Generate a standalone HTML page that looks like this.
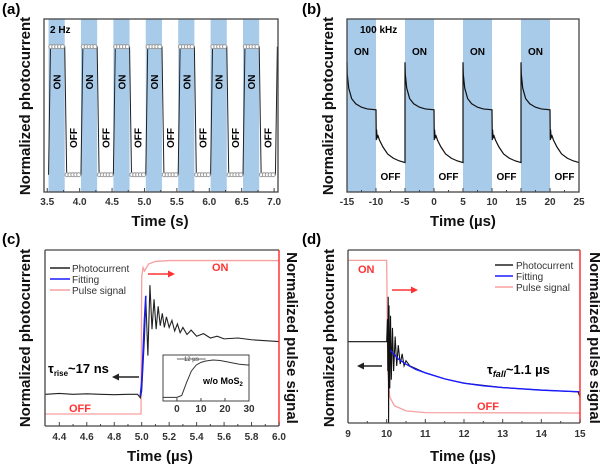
<!DOCTYPE html>
<html><head><meta charset="utf-8"><style>
body{margin:0;background:#fff}
svg{display:block;font-family:"Liberation Sans",Arial,sans-serif}
.tk{font-size:10px;font-weight:bold;fill:#333;text-anchor:middle}
.tt{font-size:15px;font-weight:bold;fill:#111}
</style></head><body>
<svg id="s" width="600" height="465" viewBox="0 0 600 465"></svg>
<script>
// ---- data ----
const aTicks=[3.5,4.0,4.5,5.0,5.5,6.0,6.5,7.0];
const aBandStarts=[3.52,4.02,4.52,5.02,5.52,6.02,6.52];
const aHigh=0.84, aLow=0.1;
const bTicks=[-15,-10,-5,0,5,10,15,20,25];
const bBandStarts=[-15,-5,5,15];
const bOnT=[0,0.05,0.3,0.8,1.5,2.5,3.5,5];
const bOnV=[0.75,0.68,0.6,0.54,0.51,0.49,0.48,0.475];
const bOffT=[0,0.05,0.1,0.2,0.3,0.6,1.2,2,3,4,5];
const bOffV=[0.475,0.3,0.36,0.31,0.33,0.3,0.26,0.22,0.195,0.18,0.17];
const cTicks=[4.4,4.6,4.8,5.0,5.2,5.4,5.6,5.8,6.0];
const cPhotoT=[4.3,4.4,4.5,4.6,4.7,4.8,4.9,4.97,4.99,5.0,5.02,5.03,5.045,5.06,5.075,5.09,5.105,5.12,5.135,5.15,5.165,5.18,5.2,5.22,5.24,5.26,5.28,5.3,5.33,5.36,5.4,5.45,5.5,5.55,5.6,5.7,5.8,5.9,6.0];
const cPhotoV=[0.18,0.185,0.18,0.183,0.18,0.178,0.18,0.18,0.16,0.2,0.5,0.72,0.4,0.8,0.55,0.72,0.55,0.68,0.57,0.64,0.56,0.62,0.56,0.6,0.54,0.58,0.53,0.56,0.52,0.545,0.51,0.525,0.5,0.51,0.495,0.5,0.49,0.485,0.48];
const cFitT=[4.99,5.0,5.01,5.02,5.03];
const cFitV=[0.17,0.25,0.42,0.6,0.74];
const cPulseT=[4.3,4.995,5.0,5.01,5.02,5.05,5.1,5.2,6.0];
const cPulseV=[0.068,0.068,0.85,0.9,0.88,0.92,0.935,0.94,0.94];
const inTicks=[0,10,20,30];
const inT=[-6,0,2,4,6,8,10,12,15,18,22,26,30];
const inV=[0.08,0.08,0.12,0.4,0.65,0.78,0.84,0.87,0.89,0.88,0.84,0.8,0.78];
const dTicks=[9,10,11,12,13,14,15];
const dPhotoT=[9,10,10.02,10.03,10.04,10.05,10.06,10.08,10.1,10.12,10.15,10.18,10.22,10.26,10.3,10.35,10.4,10.45,10.5,10.6,11,11.5,12,13,14,14.95,15];
const dPhotoV=[0.47,0.47,0.6,0.3,0.73,0.0,0.68,0.2,0.62,0.25,0.55,0.3,0.5,0.33,0.45,0.34,0.4,0.33,0.36,0.33,0.29,0.255,0.23,0.205,0.19,0.18,0.15];
const dFitT=[10.1,10.3,10.5,10.75,11,11.5,12,12.5,13,14,15];
const dFitV=[0.42,0.37,0.34,0.31,0.29,0.255,0.23,0.215,0.205,0.19,0.18];
const dPulseT=[9,10,10.03,10.08,10.2,10.5,11,15];
const dPulseV=[0.94,0.94,0.3,0.15,0.1,0.07,0.06,0.058];

const S=document.getElementById('s'),NS='http://www.w3.org/2000/svg';
function mk(tag,attrs,parent){const e=document.createElementNS(NS,tag);for(const k in attrs)e.setAttribute(k,attrs[k]);(parent||S).appendChild(e);return e;}
function txt(x,y,s,cls,extra){const e=mk('text',Object.assign({x:x,y:y},extra||{}));if(cls)e.setAttribute('class',cls);e.textContent=s;return e;}
function lin(d0,d1,r0,r1){return v=>r0+(v-d0)/(d1-d0)*(r1-r0);}
function path(xs,ys,X,Y){return xs.map((t,i)=>(i?'L':'M')+X(t).toFixed(2)+','+Y(ys[i]).toFixed(2)).join('');}
function frame(x0,y0,x1,y1,name,stroke){
 const r=mk('rect',{x:x0,y:y0,width:x1-x0,height:y1-y0,fill:'none',stroke:stroke||'#444','stroke-width':1.3});
 return r;}
function xticks(ticks,X,y1,ylab,name,minor,dec){
 const g=mk('g',{});
 ticks.forEach((t,i)=>{mk('line',{x1:X(t),x2:X(t),y1:y1,y2:y1-4,stroke:'#444'},g);const e=txt(X(t),ylab,t.toFixed(dec),'tk');g.appendChild(e);
 if(minor!==undefined && i<ticks.length-1){mk('line',{x1:X(t+minor),x2:X(t+minor),y1:y1,y2:y1-2,stroke:'#444'},g);}});return g;}
function vtext(x,y,s,rot,cls,extra){const e=txt(0,0,s,cls,extra);e.setAttribute('transform',`translate(${x},${y}) rotate(${rot})`);e.setAttribute('text-anchor','middle');return e;}

// ---- Panel a ----
{const X=lin(3.45,7.06,44,278),Y=lin(0,1,192,19);
 let e=txt(2,14,'(a)','',{'font-size':'15','font-weight':'bold'});
 aBandStarts.forEach((b,i)=>{const r=mk('rect',{x:X(b),y:19,width:X(b+0.25)-X(b),height:173,fill:'#a9cbea'});
  const on=vtext((X(b)+X(b+0.25))/2+4,82,'ON',-90,'',{'font-size':'10','font-weight':'bold'});
  const off=vtext((X(b+0.25)+X(b+0.5))/2+4,138,'OFF',-90,'',{'font-size':'10','font-weight':'bold'});});
 const ts=[],vs=[];
 aBandStarts.forEach(b=>{ts.push(b,b+0.03,b+0.25,b+0.28);vs.push(aLow,aHigh,aHigh,aLow);});
 ts.push(7.02,7.05);vs.push(aLow,aHigh);
 const p=mk('path',{d:path(ts,vs,X,Y),fill:'none',stroke:'#222','stroke-width':1});
 aBandStarts.forEach(b=>{for(let k=0;k<5;k++){const c1=mk('circle',{cx:X(b+0.035+k*0.045),cy:Y(aHigh),r:2,fill:'#fff',stroke:'#999'});
  const c2=mk('circle',{cx:X(b+0.285+k*0.045),cy:Y(aLow),r:2,fill:'#fff',stroke:'#999'});}});
 frame(44,19,278,192,'plot-frame-a');
 xticks(aTicks,X,192,205,'x-axis-a',0.25,1);
 e=txt(50,33,'2 Hz','',{'font-size':'10','font-weight':'bold'});
 e=txt(160,226,'Time (s)','tt',{'text-anchor':'middle'});
 e=vtext(30,106,'Normalized photocurrent',-90,'tt');
}
// ---- Panel b ----
{const X=lin(-15,25,347,579),Y=lin(0,1,192,19);
 let e=txt(302,14,'(b)','',{'font-size':'15','font-weight':'bold'});
 bBandStarts.forEach(b=>{const r=mk('rect',{x:X(b),y:19,width:X(b+5)-X(b),height:173,fill:'#a9cbea'});
  const on=txt(X(b+2.5),55,'ON','',{'font-size':'10','font-weight':'bold','text-anchor':'middle'});
  const off=txt(X(b+7.5),180,'OFF','',{'font-size':'10','font-weight':'bold','text-anchor':'middle'});});
 const ts=[],vs=[];
 bBandStarts.forEach(b=>{bOnT.forEach((t,i)=>{ts.push(b+t);vs.push(bOnV[i]);});bOffT.forEach((t,i)=>{ts.push(b+5+t);vs.push(bOffV[i]);});});
 const p=mk('path',{d:path(ts,vs,X,Y),fill:'none',stroke:'#111','stroke-width':1.2});
 frame(347,19,579,192,'plot-frame-b');
 xticks(bTicks,X,192,205,'x-axis-b',2.5,0);
 e=txt(360,33,'100 kHz','',{'font-size':'10','font-weight':'bold'});
 e=txt(463,226,'Time (µs)','tt',{'text-anchor':'middle'});
 e=vtext(333,106,'Normalized photocurrent',-90,'tt');
}
// ---- Panel c ----
{const X=lin(4.3,6.0,45.6,279),Y=lin(0,1,426,250);
 let e=txt(2,244,'(c)','',{'font-size':'15','font-weight':'bold'});
 let p=mk('path',{d:path(cPulseT,cPulseV,X,Y),fill:'none',stroke:'#f7a0a0','stroke-width':1.3});
 p=mk('path',{d:path(cPhotoT,cPhotoV,X,Y),fill:'none',stroke:'#222','stroke-width':1.1});
 p=mk('path',{d:path(cFitT,cFitV,X,Y),fill:'none',stroke:'#1a1aff','stroke-width':1.6});
 mk('line',{x1:45,x2:279,y1:426,y2:426,stroke:'#444','stroke-width':1.3});
 mk('line',{x1:45,x2:45,y1:250,y2:426,stroke:'#444','stroke-width':1.3});
 mk('line',{x1:45,x2:279,y1:250,y2:250,stroke:'#444','stroke-width':1.3});
 const ra=mk('line',{x1:279,x2:279,y1:250,y2:426,stroke:'#f33','stroke-width':1.5});
 xticks(cTicks,X,426,440,'x-axis-c',0.1,1);
 const lg=mk('g',{});
 [['Photocurrent','#222',272],['Fitting','#1a1aff',283],['Pulse signal','#f7a0a0',294]].forEach(r=>{mk('line',{x1:50,x2:70,y1:r[2]-4,y2:r[2]-4,stroke:r[1],'stroke-width':1.5},lg);const t=txt(72,r[2],r[0],'',{'font-size':'10',fill:'#333'});lg.appendChild(t);});
 e=txt(48,373,'τ','',{'font-size':'13','font-weight':'bold'});const s1=mk('tspan',{'font-size':'8',dy:'3'},e);s1.textContent='rise';const s2=mk('tspan',{dy:'-3'},e);s2.textContent='~17 ns';
 
 mk('line',{x1:139,x2:116,y1:377,y2:377,stroke:'#222','stroke-width':1.5});mk('path',{d:'M112,377 L119,373.5 L119,380.5Z',fill:'#222'});
 mk('line',{x1:148,x2:170,y1:274,y2:274,stroke:'#f33','stroke-width':1.5});mk('path',{d:'M175,274 L168,270.5 L168,277.5Z',fill:'#f33'});
 e=txt(212,271,'ON','',{'font-size':'11','font-weight':'bold',fill:'#f33'});
 e=txt(69,412,'OFF','',{'font-size':'11','font-weight':'bold',fill:'#f33'});
 // inset
 const IX=lin(-5.8,30,163,249),IY=lin(0,1,401,355);
 const ig=mk('g',{});
 mk('rect',{x:163,y:355,width:86,height:46,fill:'#fff',stroke:'#444'},ig);
 mk('path',{d:path(inT,inV,IX,IY),fill:'none',stroke:'#333','stroke-width':1},ig);
 inTicks.forEach(t=>{mk('line',{x1:IX(t),x2:IX(t),y1:401,y2:398,stroke:'#444'},ig);ig.appendChild(txt(IX(t),412,String(t),'tk'));});
 mk('line',{x1:IX(0),x2:IX(12),y1:359,y2:359,stroke:'#333','stroke-width':0.8},ig);
 const t12=txt(IX(6),361,'12 µs','',{'font-size':'6',fill:'#333','text-anchor':'middle'});ig.appendChild(t12);
 const wo=txt(203,384,'w/o MoS','',{'font-size':'9','font-weight':'bold'});const sb=mk('tspan',{'font-size':'6',dy:'2'},wo);sb.textContent='2';ig.appendChild(wo);
 e=txt(160,461,'Time (µs)','tt',{'text-anchor':'middle'});
 e=vtext(30,338,'Normalized photocurrent',-90,'tt');
 e=vtext(287,338,'Normalized pulse signal',90,'tt',{fill:'#f33'});
}
// ---- Panel d ----
{const X=lin(9,15,348,580),Y=lin(0,1,423,250);
 let e=txt(302,244,'(d)','',{'font-size':'15','font-weight':'bold'});
 let p=mk('path',{d:path(dPulseT,dPulseV,X,Y),fill:'none',stroke:'#f7a0a0','stroke-width':1.3});
 p=mk('path',{d:path(dPhotoT,dPhotoV,X,Y),fill:'none',stroke:'#111','stroke-width':1.1});
 p=mk('path',{d:path(dFitT,dFitV,X,Y),fill:'none',stroke:'#1a1aff','stroke-width':1.4});
 mk('line',{x1:348,x2:580,y1:423,y2:423,stroke:'#444','stroke-width':1.3});
 mk('line',{x1:348,x2:348,y1:250,y2:423,stroke:'#444','stroke-width':1.3});
 mk('line',{x1:348,x2:580,y1:250,y2:250,stroke:'#444','stroke-width':1.3});
 const ra=mk('line',{x1:580,x2:580,y1:250,y2:423,stroke:'#f33','stroke-width':1.5});
 xticks(dTicks,X,423,437,'x-axis-d',0.5,0);
 const lg=mk('g',{});
 [['Photocurrent','#222',269],['Fitting','#1a1aff',280],['Pulse signal','#f7a0a0',291]].forEach(r=>{mk('line',{x1:495,x2:513,y1:r[2]-4,y2:r[2]-4,stroke:r[1],'stroke-width':1.5},lg);const t=txt(516,r[2],r[0],'',{'font-size':'10',fill:'#333'});lg.appendChild(t);});
 e=txt(487,374,'τ','',{'font-size':'13','font-weight':'bold'});const s1=mk('tspan',{'font-size':'9',dy:'3','font-style':'italic'},e);s1.textContent='fall';const s2=mk('tspan',{dy:'-3'},e);s2.textContent='~1.1 µs';
 
 mk('line',{x1:382,x2:362,y1:366,y2:366,stroke:'#222','stroke-width':1.5});mk('path',{d:'M357,366 L364,362.5 L364,369.5Z',fill:'#222'});
 mk('line',{x1:392,x2:413,y1:290,y2:290,stroke:'#f33','stroke-width':1.5});mk('path',{d:'M418,290 L411,286.5 L411,293.5Z',fill:'#f33'});
 e=txt(358,273,'ON','',{'font-size':'11','font-weight':'bold',fill:'#f33'});
 e=txt(477,410,'OFF','',{'font-size':'11','font-weight':'bold',fill:'#f33'});
 e=txt(463,461,'Time (µs)','tt',{'text-anchor':'middle'});
 e=vtext(334,338,'Normalized photocurrent',-90,'tt');
 e=vtext(590,338,'Normalized pulse signal',90,'tt',{fill:'#f33'});
}
</script>
</body></html>
